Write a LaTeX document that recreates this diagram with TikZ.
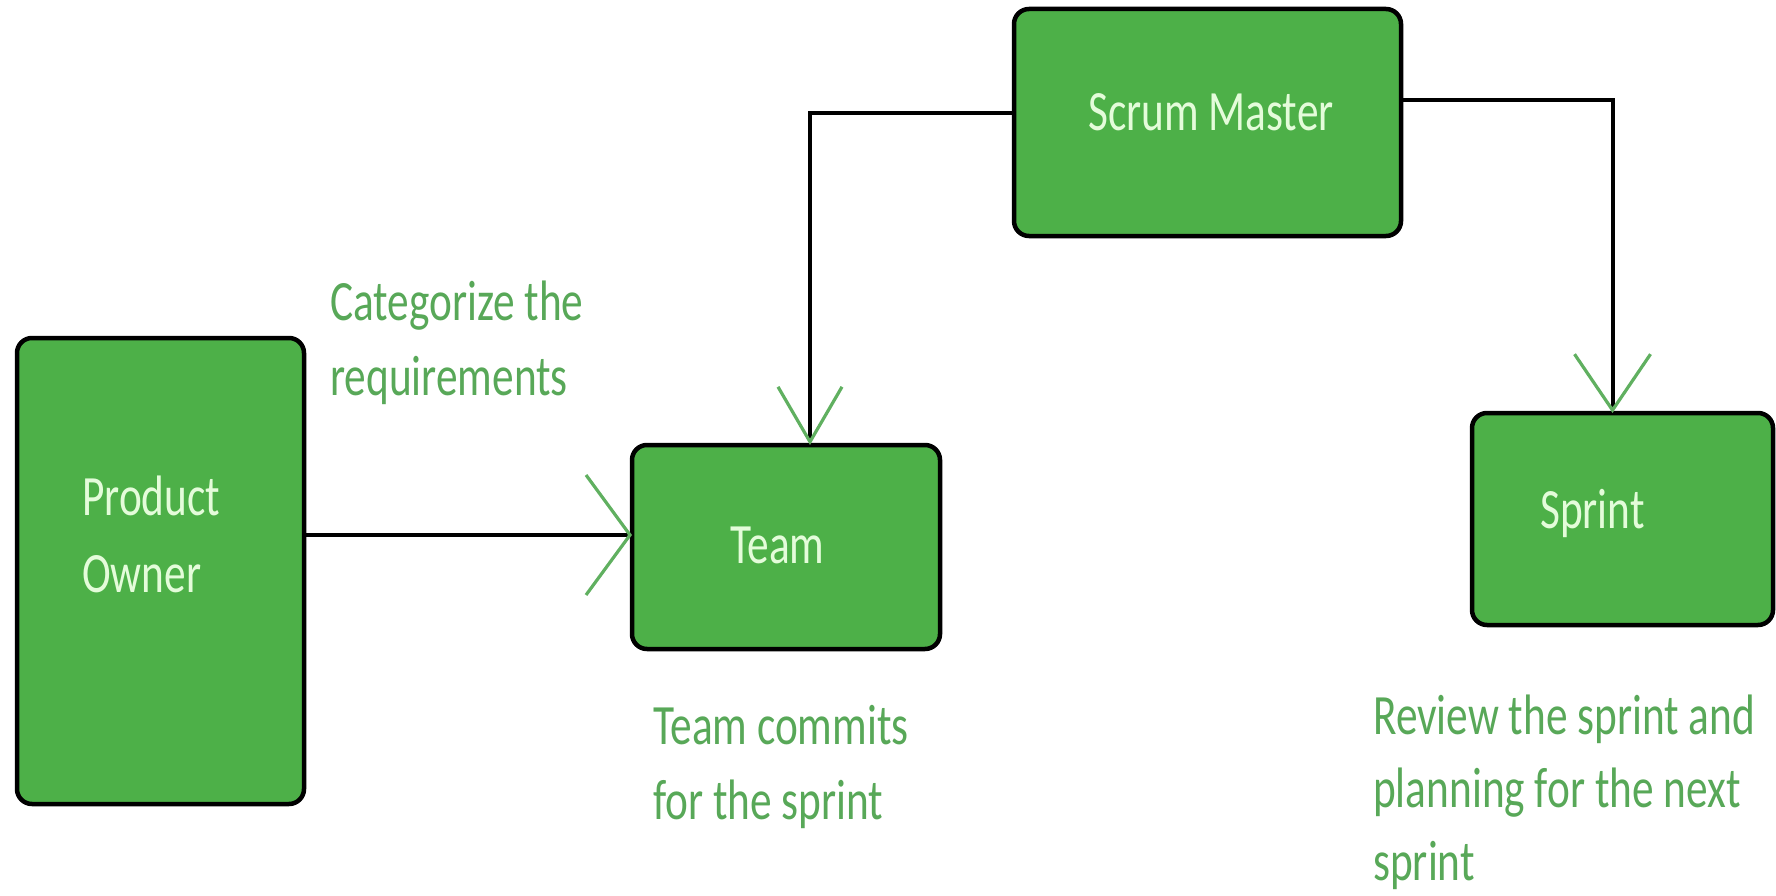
\documentclass[tikz,border=0pt]{standalone}
\usepackage{fontspec}
\setmainfont{Carlito}[FakeStretch=0.76]
\usetikzlibrary{arrows.meta}
\definecolor{boxgreen}{RGB}{77,176,72}
\definecolor{boxtextcol}{RGB}{228,252,218}
\definecolor{labelgreen}{RGB}{88,168,88}
\definecolor{arrowgreen}{RGB}{96,176,96}
\begin{document}
\begin{tikzpicture}[x=1pt,y=-1pt,
  box/.style={draw=black, line width=4.5pt, fill=boxgreen, rounded corners=15pt, inner sep=0pt, outer sep=0pt},
  boxtext/.style={text=boxtextcol, font=\fontsize{57}{77}\selectfont, inner sep=0pt, anchor=base west},
  lab/.style={text=labelgreen, font=\fontsize{57}{75}\selectfont, inner sep=0pt, anchor=base west},
  conn/.style={draw=black, line width=4pt},
  vtip/.style 2 args={-{Straight Barb[length=#1, width=#2, color=arrowgreen, line width=3.2pt]}}
]
\useasboundingbox (0,0) rectangle (1776,896);

% boxes
\node[box, minimum width=287pt, minimum height=466pt] (po) at (160.5,571) {};
\node[box, minimum width=308pt, minimum height=204pt] (team) at (786,547) {};
\node[box, minimum width=387pt, minimum height=227pt] (sm) at (1207.5,122.5) {};
\node[box, minimum width=301pt, minimum height=212pt] (sprint) at (1622.5,519) {};

% box texts
\node[boxtext] (potxt) at (82,515) {\begin{tabular}[t]{@{}l@{}}Product\\Owner\end{tabular}};
\node[boxtext] (teamtxt) at (730,563) {Team};
\node[boxtext] (smtxt) at (1088,131) {Scrum Master};
\node[boxtext] (sprinttxt) at (1540,528) {Sprint};

% labels
\node[lab] (cat) at (330,320) {\begin{tabular}[t]{@{}l@{}}Categorize the\\requirements\end{tabular}};
\node[lab] (commit) at (653,744) {\begin{tabular}[t]{@{}l@{}}Team commits\\for the sprint\end{tabular}};
\node[lab, font=\fontsize{57}{73}\selectfont] (review) at (1373,734) {\begin{tabular}[t]{@{}l@{}}Review the sprint and\\planning for the next\\sprint\end{tabular}};

% connectors
\draw[conn, vtip={44pt}{120pt}] ([yshift=36pt]po.east) -- ([yshift=12pt]team.west);
\draw[conn, vtip={55pt}{64pt}] ([yshift=9pt]sm.west) -| ([xshift=24pt]team.north);
\draw[conn, vtip={56pt}{76pt}] ([yshift=22pt]sm.east) -| ([xshift=-10pt]sprint.north);
\end{tikzpicture}
\end{document}
